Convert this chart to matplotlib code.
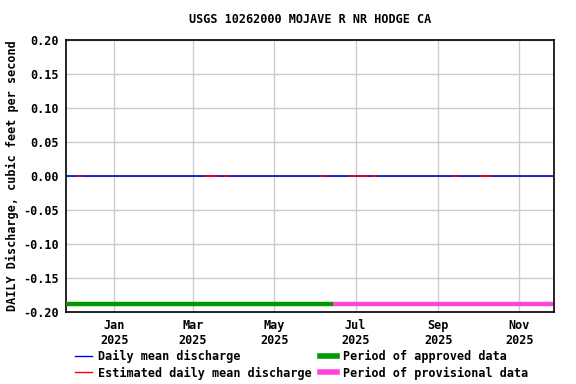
import matplotlib
matplotlib.use("Agg")
import matplotlib.pyplot as plt
import matplotlib.dates as mdates
from matplotlib.lines import Line2D
import numpy as np
import pandas as pd

title = "USGS 10262000 MOJAVE R NR HODGE CA"
ylabel = "DAILY Discharge, cubic feet per second"

# daily record, all zero flow
start_date = "2024-11-26"
end_date = "2025-11-26"
discharge_value = 0.0

# estimated-value periods (red)
est_periods = [
    ("2024-12-05", "2024-12-07"),
    ("2025-03-11", "2025-03-19"),
    ("2025-03-25", "2025-03-27"),
    ("2025-06-05", "2025-06-08"),
    ("2025-06-27", "2025-07-01"),
    ("2025-07-03", "2025-07-09"),
    ("2025-07-13", "2025-07-16"),
    ("2025-09-13", "2025-09-15"),
    ("2025-10-03", "2025-10-10"),
]

approved_period = ("2024-11-26", "2025-06-14")
provisional_period = ("2025-06-14", "2025-11-26")
period_y = -0.188

dates = pd.date_range(start_date, end_date, freq="D")
q = np.full(len(dates), discharge_value)

plt.rcParams['font.family'] = ['DejaVu Sans Mono']
plt.rcParams['font.weight'] = 'bold'
plt.rcParams['font.size'] = 8.5

fig = plt.figure(figsize=(5.76, 3.84), dpi=100)
ax = fig.add_axes([0.114, 0.1875, 0.848, 0.708])

ax.plot(dates, q, color='#0000cc', lw=1.2, zorder=3)
for a, b in est_periods:
    seg = pd.date_range(a, b, freq="D")
    ax.plot(seg, np.full(len(seg), discharge_value), color='red', lw=1.2, zorder=4)

ax.plot(pd.to_datetime(list(approved_period)), [period_y, period_y],
        color='#009900', lw=3.2, solid_capstyle='butt', zorder=5, clip_on=False)
ax.plot(pd.to_datetime(list(provisional_period)), [period_y, period_y],
        color='#ff44dd', lw=3.2, solid_capstyle='butt', zorder=5, clip_on=False)

ax.set_xlim(pd.Timestamp("2024-11-25 12:00"), pd.Timestamp("2025-11-27"))
ax.set_ylim(-0.2, 0.2)
ax.set_yticks(np.arange(-0.2, 0.201, 0.05))
ax.yaxis.set_major_formatter(plt.FuncFormatter(lambda v, p: f"{v:.2f}".replace("-0.00", "0.00")))
ax.xaxis.set_major_locator(mdates.MonthLocator(bymonth=[1, 3, 5, 7, 9, 11]))
ax.xaxis.set_major_formatter(mdates.DateFormatter("%b\n%Y"))
ax.tick_params(length=0, pad=5)
ax.grid(True, color='#cccccc', lw=1)
ax.set_axisbelow(True)
for s in ax.spines.values():
    s.set_linewidth(1.2)

ax.set_title(title, fontsize=8.5, fontweight='bold', pad=12)
ax.set_ylabel(ylabel, fontsize=8.5, fontweight='bold', labelpad=3)

handles = [
    Line2D([], [], color='#0000ff', lw=1),
    Line2D([], [], color='red', lw=1),
    Line2D([], [], color='#009900', lw=4),
    Line2D([], [], color='#ff44dd', lw=4),
]
labels = ["Daily mean discharge", "Estimated daily mean discharge",
          "Period of approved data", "Period of provisional data"]
fig.legend(handles, labels, ncol=2, loc='lower left', bbox_to_anchor=(0.111, -0.016),
           frameon=False, handlelength=1.5, handletextpad=0.5, columnspacing=0.65,
           labelspacing=0.3, fontsize=8.5)

fig.savefig("out.png", dpi=100)
